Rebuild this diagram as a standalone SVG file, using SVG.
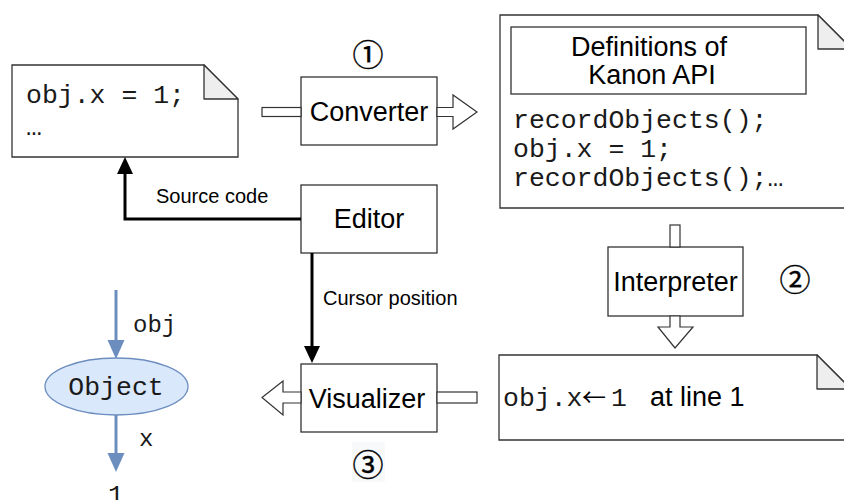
<svg xmlns="http://www.w3.org/2000/svg" width="844" height="500" viewBox="0 0 844 500">
  <style>
    .box { fill: #ffffff; stroke: #333333; stroke-width: 1.3; }
    .doc { fill: #ffffff; stroke: #333333; stroke-width: 1.3; }
    .fold { fill: #eeeeee; stroke: #333333; stroke-width: 1.3; stroke-linejoin: round; }
    .flex { fill: #ffffff; stroke: #333333; stroke-width: 1.2; stroke-linejoin: miter; }
    .wire { fill: none; stroke: #000000; stroke-width: 3; }
    .ref { fill: none; stroke: #6c8ebf; stroke-width: 3; }
    .lbl { font-family: "Liberation Sans", Arial, sans-serif; font-size: 27px; fill: #000000; }
    .mono { font-family: "Liberation Mono", "Courier New", monospace; font-size: 26.5px; fill: #1a1a1a; }
    .small { font-family: "Liberation Sans", Arial, sans-serif; font-size: 20px; fill: #000000; }
    .step { font-family: "Noto Sans CJK JP", "DejaVu Sans", sans-serif; font-size: 31px; fill: #000000; stroke: #000000; stroke-width: 0.4; }
    .sym { font-family: "Noto Sans CJK JP", "DejaVu Sans", sans-serif; font-size: 24px; fill: #000000; }
  </style>
  <defs>
    <marker id="arrowBlack" markerUnits="userSpaceOnUse" markerWidth="17" markerHeight="17" refX="0" refY="8" orient="auto">
      <path d="M0,0 L17,8 L0,16 Z" fill="#000000"/>
    </marker>
    <marker id="arrowBlue" markerUnits="userSpaceOnUse" markerWidth="19" markerHeight="18" refX="0" refY="8.5" orient="auto">
      <path d="M0,0 L19,8.5 L0,17 Z" fill="#6c8ebf"/>
    </marker>
  </defs>

  <!-- source file -->
  <g id="source-doc">
    <path class="doc" d="M12,65 H204 L238,99 V157 H12 Z"/>
    <path class="fold" d="M204,65 V99 H238 Z"/>
    <text class="mono" x="26" y="103">obj.x = 1;</text>
    <text class="mono" x="26" y="135">…</text>
  </g>

  <!-- converter -->
  <g id="converter">
    <rect class="box" x="301" y="77" width="136" height="68"/>
    <text class="lbl" x="369" y="121" text-anchor="middle">Converter</text>
    <text class="step" x="368" y="52" text-anchor="middle" dominant-baseline="central">①</text>
  </g>

  <!-- converted program -->
  <g id="converted-doc">
    <path class="doc" d="M500,15 H818 L852,49 V208 H500 Z"/>
    <path class="fold" d="M818,15 V49 H852 Z"/>
    <rect class="box" x="511" y="27" width="295" height="67"/>
    <text class="lbl" x="649" y="56" text-anchor="middle">Definitions of</text>
    <text class="lbl" x="652" y="84" text-anchor="middle">Kanon API</text>
    <text class="mono" x="513" y="128">recordObjects();</text>
    <text class="mono" x="513" y="157">obj.x = 1;</text>
    <text class="mono" x="513" y="186">recordObjects();…</text>
  </g>

  <!-- interpreter -->
  <g id="interpreter">
    <rect class="box" x="608" y="247" width="135" height="69"/>
    <text class="lbl" x="675.5" y="291" text-anchor="middle">Interpreter</text>
    <text class="step" x="795" y="277" text-anchor="middle" dominant-baseline="central">②</text>
  </g>

  <!-- execution trace -->
  <g id="trace-doc">
    <path class="doc" d="M499,355 H817 L851,389 V440 H499 Z"/>
    <path class="fold" d="M817,355 V389 H851 Z"/>
    <text y="406"><tspan class="mono" x="503">obj.x</tspan><tspan class="sym" x="582">←</tspan><tspan class="mono" x="611">1</tspan><tspan class="lbl" x="650">at line 1</tspan></text>
  </g>

  <!-- editor -->
  <g id="editor">
    <rect class="box" x="301" y="185" width="136" height="68"/>
    <text class="lbl" x="369" y="228" text-anchor="middle">Editor</text>
  </g>

  <!-- visualizer -->
  <g id="visualizer">
    <rect class="box" x="301" y="364" width="136" height="68"/>
    <text class="lbl" x="367" y="408" text-anchor="middle">Visualizer</text>
    <rect x="352" y="442" width="33" height="40" fill="#f8f9fa"/>
    <text class="step" x="368" y="462" text-anchor="middle" dominant-baseline="central">③</text>
  </g>

  <!-- object view -->
  <g id="object-view">
    <path class="ref" d="M116,290 V340" marker-end="url(#arrowBlue)"/>
    <text class="mono" x="133" y="332" style="font-size:24px">obj</text>
    <ellipse cx="116.5" cy="386.5" rx="71.5" ry="28.5" fill="#dae8fc" stroke="#6c8ebf" stroke-width="1.3"/>
    <text class="mono" x="116" y="395" text-anchor="middle">Object</text>
    <path class="ref" d="M116,415 V453" marker-end="url(#arrowBlue)"/>
    <text class="mono" x="139" y="446" style="font-size:24px">x</text>
    <text class="mono" x="116" y="503" text-anchor="middle">1</text>
  </g>

  <!-- connectors -->
  <g id="connectors">
    <!-- block arrows between stages -->
    <rect class="flex" x="262" y="107.5" width="39" height="9"/>
    <polygon class="flex" points="437,107.5 453,107.5 453,95 477,112 453,129 453,116.5 437,116.5"/>
    <rect class="flex" x="670" y="225" width="10" height="22"/>
    <polygon class="flex" points="670,316 670,327 658,327 675,348 693,327 680,327 680,316"/>
    <rect class="flex" x="437" y="392" width="40" height="11"/>
    <polygon class="flex" points="301,392 283,392 283,381 262,397.5 283,415 283,403 301,403"/>
    <!-- editor outputs -->
    <path class="wire" d="M301,219 H125 V174" marker-end="url(#arrowBlack)"/>
    <text class="small" x="156" y="203">Source code</text>
    <path class="wire" d="M312,253 V346" marker-end="url(#arrowBlack)"/>
    <text class="small" x="323" y="305">Cursor position</text>
  </g>
</svg>
